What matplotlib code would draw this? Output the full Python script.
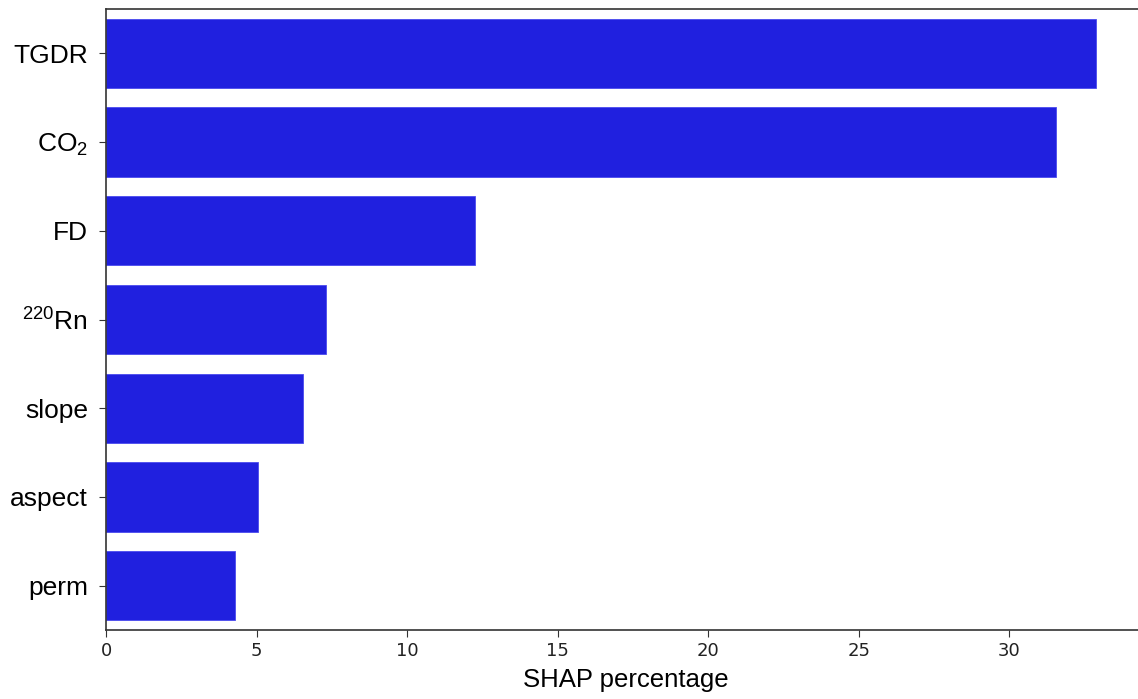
import matplotlib
matplotlib.use("Agg")
import matplotlib.pyplot as plt

features = ["TGDR", r"$\mathregular{CO_2}$", "FD", r"$\mathregular{^{220}Rn}$",
            "slope", "aspect", "perm"]
shap_pct = [32.9, 31.55, 12.25, 7.3, 6.55, 5.05, 4.3]

plt.rcParams["mathtext.fontset"] = "custom"
plt.rcParams["mathtext.rm"] = "Liberation Sans"

fig = plt.figure(figsize=(11.38, 6.99), dpi=100)
ax = fig.add_axes([106 / 1138, 69 / 699, 1040 / 1138, 621 / 699])

pos = list(range(len(features)))
ax.barh(pos, shap_pct, height=0.78, color="#2020df", edgecolor="#4a4aef", linewidth=0.6)
ax.set_ylim(len(features) - 0.5, -0.5)
ax.set_xlim(0, max(shap_pct) * 1.05)

ax.set_yticks(pos)
ax.set_yticklabels(features, fontsize=19, family="Liberation Sans")
ax.set_xticks([0, 5, 10, 15, 20, 25, 30])
ax.tick_params(axis="x", labelsize=13, length=5, color="#333333")
ax.tick_params(axis="y", length=5, color="#333333", pad=8)
for lab in ax.get_xticklabels():
    lab.set_family("DejaVu Sans")
    lab.set_color("#222222")

ax.set_xlabel("SHAP percentage", fontsize=18.5, family="Liberation Sans", labelpad=6)
for s in ax.spines.values():
    s.set_color("#333333")
    s.set_linewidth(1.2)

fig.savefig("out.png", dpi=100)
